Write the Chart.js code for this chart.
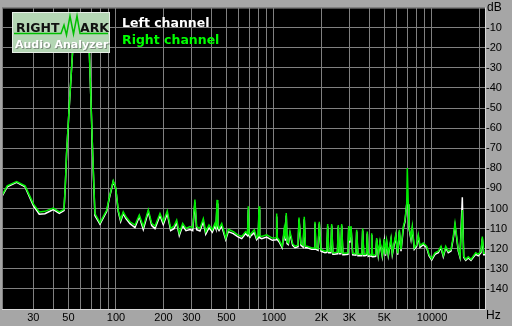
<!DOCTYPE html>
<html>
<head>
<meta charset="utf-8">
<script src="https://cdn.jsdelivr.net/npm/chart.js@4.4.1/dist/chart.umd.min.js"></script>
<style>
  html, body { margin: 0; padding: 0; background: #a6a6a6; }
  canvas { display: block; }
</style>
</head>
<body>
<canvas id="spectrum" width="512" height="326"></canvas>
<script>
// Spectrum data (Hz / dB)
const freqs = [
  19, 20.5, 23.5, 26.6, 30, 32.7, 35.5, 40.1, 43.8, 46.9,
  47.8, 48.7, 50.8, 53.2, 55.8, 59.2, 63.7, 67.8, 69.5, 71.2,
  73.6, 79.2, 87.3, 90.7, 96.1, 99.6, 103.4, 107.1, 111.2, 115.7,
  122.6, 131.9, 140.5, 148.9, 160.2, 168.3, 176.6, 189.9, 199.3, 211.2,
  221.9, 232.9, 242.2, 251.6, 264.4, 277.4, 294, 306, 316, 324,
  340, 357, 370, 388, 407, 423, 430, 436, 441, 449,
  467, 495, 514, 553, 589, 625, 662, 680, 688, 695,
  705, 751, 777, 795, 804, 812, 836, 899, 976, 1030,
  1040, 1050, 1075, 1128, 1162, 1180, 1196, 1210, 1232, 1263,
  1313, 1358, 1420, 1440, 1482, 1530, 1555, 1580, 1625, 1732,
  1800, 1817, 1840, 1900, 1935, 1984, 2102, 2160, 2187, 2220,
  2290, 2318, 2360, 2397, 2520, 2553, 2590, 2650, 2682, 2730,
  2774, 2940, 2971, 3020, 3072, 3149, 3300, 3337, 3400, 3466,
  3600, 3642, 3700, 3767, 3850, 3896, 3950, 4011, 4120, 4153,
  4200, 4251, 4400, 4467, 4573, 4689, 4849, 4992, 5080, 5170,
  5292, 5504, 5609, 5893, 6068, 6211, 6367, 6582, 6747, 6917,
  6978, 7079, 7152, 7363, 7504, 7726, 8000, 8189, 8395, 8810,
  9261, 9572, 9956, 10447, 10961, 11402, 11791, 12212, 12682, 13190,
  13640, 13982, 14333, 14671, 15039, 15555, 15876, 16346, 16970, 17652,
  18255, 18909, 19638, 20426, 20817, 21246, 21653
];

const rightDb = [
  -93.5, -88.7, -86.6, -88.7, -97.7, -101.7, -101.4, -99.8, -101.7, -100.4,
  -88, -72.4, -47, -21.2, -10, -7, -10, -21.2, -47, -72.4,
  -102.5, -107, -100.9, -94.4, -86.2, -89.5, -100.9, -105.5, -101.7, -104.1,
  -106.6, -108.2, -103.3, -109, -100.6, -107.4, -108.7, -102.5, -106.6, -101.2,
  -109.9, -108.7, -105.8, -112.3, -107.4, -109.9, -109, -109.5, -95.5, -109,
  -109.9, -105, -111.5, -108.2, -110.6, -107.4, -109, -95.7, -108.5, -109.9,
  -107.4, -114.7, -110.3, -111.5, -113.1, -113.9, -111.5, -112.5, -98.9, -112.5,
  -113.1, -110.6, -114.7, -113.5, -98.9, -113.5, -113.9, -113.1, -114.7, -114.5,
  -102.5, -114.5, -115.5, -118.8, -109.9, -115, -102.2, -116.5, -117.2, -111.5,
  -117.5, -118.8, -118.2, -104.5, -117.5, -118.3, -104.1, -118.8, -118.8, -119.6,
  -119.6, -106.6, -119.6, -120, -106.6, -120.4, -121.2, -121, -107.7, -121.2,
  -121.2, -107.7, -122, -122, -121.7, -108.2, -121.7, -121.7, -107.7, -122.3,
  -122.3, -122, -108.7, -116, -108.7, -122.3, -122.5, -110.6, -122.8, -122.8,
  -122.8, -109.9, -122.8, -122.8, -122.5, -111.5, -123, -122.8, -123, -112.3,
  -123.3, -123.3, -123, -114.7, -122.8, -116.3, -123.3, -115.2, -122.8, -116.3,
  -122.8, -114.7, -122.3, -113.1, -122.3, -110.6, -120.4, -109, -105.8, -97.7,
  -79.8, -97.7, -109, -114.7, -109, -119.6, -118, -113.1, -118.5, -117.2,
  -118.8, -122.8, -125, -122, -121.2, -118.8, -123.3, -118.8, -121.2, -120.4,
  -113.9, -107.4, -113.9, -120.4, -123.7, -100.7, -123.7, -125.3, -124, -125.3,
  -123.7, -122, -122.8, -121.2, -113.9, -122.3, -122.3
];

const leftDb = [
  -94, -89.2, -87, -89.2, -98.5, -102.8, -102.6, -100.5, -102.4, -101,
  -88.5, -72.8, -47.3, -21.4, -10.2, -7.2, -10.2, -21.4, -47.3, -72.8,
  -103.5, -107.8, -101.5, -95, -86.6, -90, -101.5, -106.5, -102.5, -105,
  -107.5, -109.5, -104, -110.5, -101.5, -108.5, -110, -103.5, -108, -102.5,
  -111, -110, -107, -113.5, -108.5, -111, -110.5, -111, -97, -110.5,
  -111.2, -106.5, -112.8, -109.5, -111.8, -108.5, -110.2, -97.5, -110, -111,
  -108.8, -115.5, -111.5, -112.5, -114, -115, -112.5, -113.5, -100.5, -113.5,
  -114, -112, -115.5, -114.5, -100.5, -114.5, -115, -114.2, -115.8, -115.5,
  -104, -115.5, -116.5, -119.5, -111, -116, -103.5, -117.5, -118, -112.5,
  -118.3, -119.5, -119, -105.5, -118.3, -119.2, -105.3, -119.5, -119.5, -120.3,
  -120.3, -107.5, -120.3, -120.8, -107.5, -121.2, -122, -121.8, -108.8, -122,
  -122, -108.5, -122.8, -122.8, -122.5, -109, -122.5, -122.5, -108.5, -123,
  -123, -122.8, -109.5, -117, -109.5, -123, -123.2, -111.5, -123.5, -123.5,
  -123.5, -111, -123.5, -123.5, -123.2, -112.5, -123.8, -123.5, -123.8, -113,
  -124, -124, -123.8, -115.5, -123.5, -117, -124, -116, -123.5, -117,
  -123.5, -115.5, -123, -114, -123, -111.5, -121.2, -110, -106.5, -98,
  -98.2, -98, -109.8, -115.5, -110, -120.3, -118.8, -114, -119.3, -118,
  -119.5, -123.5, -125.6, -122.8, -122, -119.5, -124, -119.5, -122, -121.2,
  -114.8, -108.5, -114.8, -121.2, -124.3, -94.4, -124.3, -125.8, -124.6, -125.8,
  -124.3, -122.8, -123.5, -122, -115, -123, -123
];

// Axis grid / labels
const gridFreqs = [30, 40, 50, 60, 70, 80, 90, 100, 200, 300, 400, 500, 600, 700, 800, 900,
  1000, 2000, 3000, 4000, 5000, 6000, 7000, 8000, 9000, 10000, 20000];
const labelFreqs = [30, 50, 100, 200, 300, 500, 1000, 2000, 3000, 5000, 10000];
const labelTexts = ['30', '50', '100', '200', '300', '500', '1000', '2K', '3K', '5K', '10000'];
const seriesNames = ['Left channel', 'Right channel'];

const GRID = '#808080';
const GREEN = '#00ee00';
const tickFont = { family: 'Liberation Sans, Arial, sans-serif', size: 11 };

const rmaaDecor = {
  id: 'rmaaDecor',
  beforeDraw(chart) {
    const ctx = chart.ctx;
    const a = chart.chartArea;
    ctx.save();
    ctx.fillStyle = '#a6a6a6';
    ctx.fillRect(0, 0, chart.width, chart.height);
    ctx.fillStyle = '#000';
    ctx.fillRect(a.left, a.top, a.right - a.left, a.bottom - a.top);
    ctx.restore();
  },
  afterDraw(chart) {
    const ctx = chart.ctx;
    const a = chart.chartArea;
    ctx.save();

    // plot frame
    ctx.strokeStyle = GRID;
    ctx.lineWidth = 1;
    ctx.beginPath();
    ctx.moveTo(a.left + 0.5, a.bottom);
    ctx.lineTo(a.left + 0.5, a.top + 0.5);
    ctx.lineTo(a.right, a.top + 0.5);
    ctx.stroke();
    ctx.strokeStyle = '#d8d8d8';
    ctx.beginPath();
    ctx.moveTo(a.left, Math.round(a.bottom) + 0.5);
    ctx.lineTo(Math.round(a.right) + 0.5, Math.round(a.bottom) + 0.5);
    ctx.lineTo(Math.round(a.right) + 0.5, a.top);
    ctx.stroke();

    // logo box
    ctx.fillStyle = '#b4d6b4';
    ctx.fillRect(13, 13, 96, 39);
    ctx.strokeStyle = '#e6eee6';
    ctx.strokeRect(12.5, 12.5, 97, 40);
    ctx.fillStyle = '#111';
    ctx.font = 'bold 12.5px "DejaVu Sans", Verdana, sans-serif';
    ctx.textBaseline = 'alphabetic';
    ctx.fillText('RIGHT', 16, 32);
    ctx.fillText('ARK', 80, 32);
    ctx.strokeStyle = '#00c000';
    ctx.lineWidth = 1.5;
    ctx.beginPath();
    ctx.moveTo(14, 33.5);
    ctx.lineTo(61, 33.5);
    ctx.lineTo(64, 25);
    ctx.lineTo(66.5, 35);
    ctx.lineTo(70, 16);
    ctx.lineTo(73.5, 34);
    ctx.lineTo(77, 16);
    ctx.lineTo(80, 33.5);
    ctx.lineTo(108, 33.5);
    ctx.stroke();
    ctx.font = 'bold 11px "DejaVu Sans", Verdana, sans-serif';
    ctx.fillStyle = '#7c8c7c';
    ctx.fillText('Audio Analyzer', 16, 48.5);
    ctx.fillStyle = '#ffffff';
    ctx.fillText('Audio Analyzer', 15, 47.5);

    // legend
    ctx.font = 'bold 12.5px "DejaVu Sans", Verdana, sans-serif';
    ctx.fillStyle = '#ffffff';
    ctx.fillText(seriesNames[0], 122, 27);
    ctx.fillStyle = '#00ff00';
    ctx.fillText(seriesNames[1], 122, 43.5);

    // unit labels
    ctx.fillStyle = '#000';
    ctx.font = '12px "Liberation Sans", Arial, sans-serif';
    ctx.textBaseline = 'middle';
    ctx.fillText('dB', 487, 8);
    ctx.fillText('Hz', 486, 316);
    ctx.restore();
  }
};

new Chart(document.getElementById('spectrum').getContext('2d'), {
  type: 'line',
  data: {
    labels: freqs,
    datasets: [
      {
        label: seriesNames[1],
        data: freqs.map((f, i) => ({ x: f, y: rightDb[i] })),
        borderColor: GREEN,
        borderWidth: 1.5,
        pointRadius: 0,
        tension: 0,
        fill: false
      },
      {
        label: seriesNames[0],
        data: freqs.map((f, i) => ({ x: f, y: leftDb[i] })),
        borderColor: '#ffffff',
        borderWidth: 1.5,
        pointRadius: 0,
        tension: 0,
        fill: false
      }
    ]
  },
  options: {
    responsive: false,
    devicePixelRatio: 1,
    animation: false,
    layout: { padding: { left: 2, top: 1, right: 0, bottom: 0 } },
    plugins: {
      legend: { display: false },
      tooltip: { enabled: false }
    },
    scales: {
      x: {
        type: 'logarithmic',
        min: 19,
        max: 21650,
        afterBuildTicks(scale) {
          scale.ticks = gridFreqs.map(v => ({ value: v }));
        },
        afterFit(scale) { scale.height = 17; },
        grid: { color: GRID, lineWidth: 1, drawTicks: false },
        border: { display: false },
        ticks: {
          autoSkip: false,
          maxRotation: 0,
          padding: 2,
          color: '#000',
          font: tickFont,
          callback(value) {
            const k = labelFreqs.indexOf(value);
            return k >= 0 ? labelTexts[k] : '';
          }
        }
      },
      y: {
        type: 'linear',
        position: 'right',
        min: -150,
        max: 0,
        afterFit(scale) { scale.width = 27; },
        grid: { color: GRID, lineWidth: 1, drawTicks: false },
        border: { display: false },
        ticks: {
          stepSize: 10,
          padding: 1,
          color: '#000',
          font: tickFont,
          callback(value) {
            return (value <= -10 && value >= -140) ? String(value) : '';
          }
        }
      }
    }
  },
  plugins: [rmaaDecor]
});
</script>
</body>
</html>
